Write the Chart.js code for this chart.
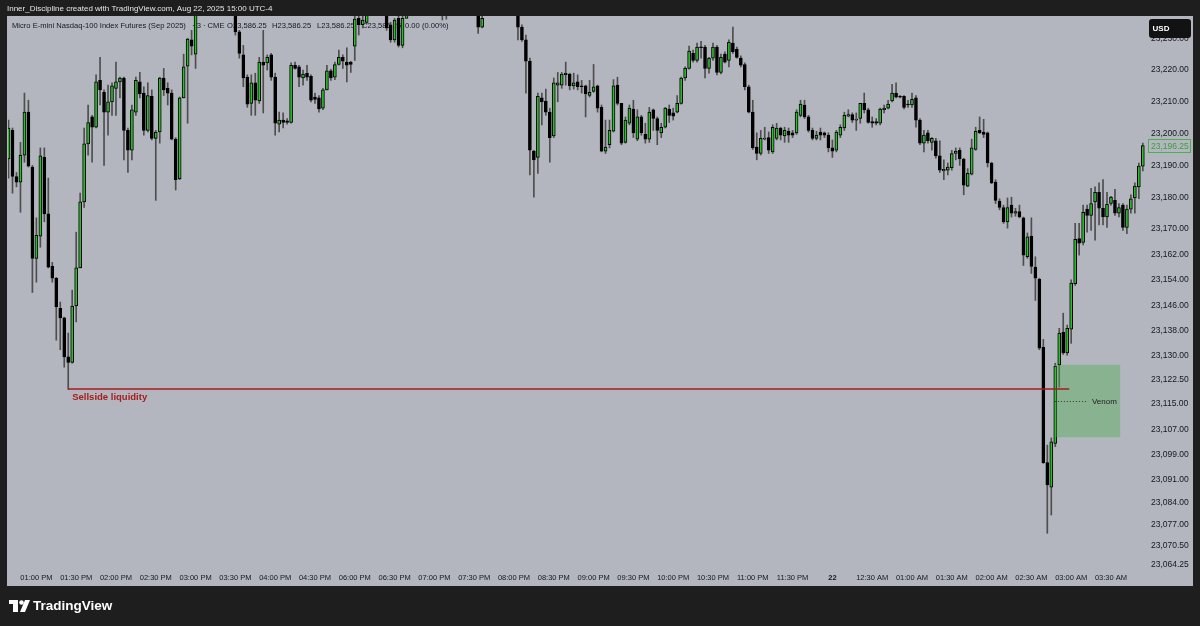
<!DOCTYPE html>
<html>
<head>
<meta charset="utf-8">
<script src="https://cdn.jsdelivr.net/npm/chart.js@4.4.1/dist/chart.umd.min.js"></script>
<style>
  html, body { margin: 0; padding: 0; background: #1e1e1e; }
  canvas { display: block; }
</style>
</head>
<body>
<canvas id="chart" width="1200" height="626"></canvas>
<script>
// 3-minute bars, MNQ Sep 2025, from 12:39 PM to 03:54 AM
const opens = [
  23192.0, 23201.0, 23186.5, 23184.75, 23193.25, 23206.75, 23189.5, 23160.75, 23167.75, 23192.5,
  23174.75, 23158.25, 23154.5, 23145.0, 23142.0, 23129.75, 23128.0, 23145.75, 23157.75, 23178.5,
  23196.75, 23205.25, 23202.0, 23216.75, 23213.0, 23206.75, 23210.0, 23214.25, 23216.25, 23217.5,
  23201.0, 23194.75, 23206.75, 23216.25, 23212.75, 23201.0, 23211.75, 23198.5, 23200.5, 23217.5,
  23214.25, 23212.75, 23198.25, 23185.75, 23211.25, 23221.25, 23229.5, 23225.0, 23240.0, 23244.0,
  23248.0, 23245.0, 23249.0, 23252.0, 23247.0, 23246.0, 23243.0, 23239.0, 23232.0, 23224.75,
  23217.75, 23209.5, 23216.0, 23210.25, 23222.5, 23222.25, 23224.75, 23217.75, 23203.0, 23204.25,
  23204.0, 23203.5, 23221.5, 23221.0, 23217.5, 23219.0, 23218.0, 23211.5, 23211.25, 23208.0,
  23213.75, 23219.75, 23217.75, 23221.75, 23224.0, 23222.5, 23222.5, 23227.5, 23236.25, 23234.25,
  23235.0, 23238.5, 23242.0, 23245.0, 23241.0, 23238.25, 23234.25, 23229.5, 23236.25, 23227.75,
  23236.25, 23241.0, 23245.0, 23243.0, 23247.0, 23250.0, 23246.0, 23244.0, 23242.0, 23244.0,
  23241.0, 23243.0, 23246.0, 23249.0, 23247.0, 23244.0, 23242.0, 23244.0, 23241.0, 23233.5,
  23238.5, 23242.0, 23245.0, 23248.0, 23246.0, 23243.0, 23245.0, 23243.0, 23239.0, 23233.5,
  23229.5, 23222.75, 23194.5, 23192.5, 23211.25, 23210.25, 23206.75, 23199.25, 23215.25, 23215.25,
  23218.5, 23218.75, 23215.0, 23216.25, 23215.0, 23215.0, 23212.0, 23213.25, 23215.0, 23208.25,
  23194.5, 23196.5, 23200.75, 23215.25, 23209.5, 23197.25, 23203.25, 23207.75, 23198.25, 23205.25,
  23199.75, 23198.25, 23207.5, 23204.75, 23200.25, 23202.0, 23207.75, 23206.5, 23206.75, 23209.5,
  23217.5, 23220.5, 23225.25, 23223.0, 23227.25, 23227.25, 23220.5, 23223.75, 23227.25, 23219.25,
  23225.0, 23223.0, 23228.5, 23226.5, 23223.75, 23221.75, 23214.75, 23206.75, 23195.75, 23193.75,
  23198.25, 23198.75, 23194.25, 23198.5, 23201.75, 23199.25, 23200.75, 23200.25, 23200.25, 23205.75,
  23209.0, 23205.25, 23201.0, 23198.5, 23200.5, 23200.25, 23199.5, 23195.5, 23194.75, 23199.5,
  23201.75, 23205.5, 23206.0, 23204.25, 23204.75, 23209.5, 23207.5, 23203.75, 23203.75, 23203.25,
  23207.5, 23208.0, 23210.25, 23212.75, 23211.75, 23211.75, 23209.25, 23209.0, 23211.25, 23204.25,
  23197.0, 23200.25, 23197.25, 23197.75, 23193.0, 23188.25, 23188.5, 23189.25, 23193.75, 23194.75,
  23192.0, 23183.5, 23187.25, 23195.0, 23201.0, 23200.5, 23200.25, 23190.75, 23184.75, 23178.75,
  23176.75, 23172.25, 23177.5, 23175.0, 23175.5, 23173.5, 23161.25, 23167.75, 23158.0, 23154.25,
  23132.75, 23096.5, 23088.75, 23102.5, 23127.25, 23137.5, 23131.0, 23138.5, 23152.75, 23167.0,
  23165.75, 23176.25, 23174.25, 23178.5, 23181.5, 23176.5, 23173.75, 23178.0, 23179.0, 23175.0,
  23177.5, 23170.5, 23176.25, 23179.75, 23183.25, 23189.75
];
const highs = [
  23204.25, 23201.75, 23187.75, 23197.25, 23212.75, 23210.5, 23190.0, 23173.5, 23195.5, 23195.5,
  23186.0, 23159.5, 23154.75, 23147.0, 23142.25, 23137.25, 23150.75, 23169.0, 23181.25, 23201.75,
  23209.0, 23205.75, 23218.5, 23224.0, 23213.75, 23215.25, 23216.0, 23222.5, 23217.75, 23217.75,
  23201.75, 23209.0, 23217.75, 23219.25, 23214.75, 23216.0, 23213.75, 23201.0, 23217.75, 23220.5,
  23216.0, 23213.75, 23198.75, 23211.5, 23225.0, 23230.0, 23232.5, 23243.0, 23246.0, 23250.0,
  23252.0, 23251.0, 23255.0, 23254.0, 23250.0, 23249.0, 23246.0, 23241.0, 23232.5, 23227.75,
  23218.5, 23218.5, 23219.0, 23224.0, 23232.5, 23224.75, 23225.25, 23219.0, 23206.75, 23206.5,
  23204.75, 23222.25, 23222.5, 23221.5, 23220.0, 23221.5, 23218.5, 23212.75, 23212.0, 23214.25,
  23221.5, 23220.25, 23222.5, 23226.25, 23224.75, 23227.0, 23222.75, 23237.25, 23238.0, 23237.0,
  23241.0, 23244.0, 23247.0, 23248.0, 23245.0, 23241.0, 23235.0, 23236.25, 23237.25, 23238.0,
  23243.0, 23247.0, 23250.0, 23249.0, 23253.0, 23254.0, 23250.0, 23248.0, 23246.0, 23247.0,
  23245.0, 23248.0, 23251.0, 23253.0, 23250.0, 23247.0, 23246.0, 23247.0, 23243.0, 23239.0,
  23244.0, 23247.0, 23250.0, 23252.0, 23249.0, 23247.0, 23248.0, 23246.0, 23242.0, 23234.25,
  23231.0, 23223.75, 23194.75, 23212.75, 23212.75, 23214.0, 23208.0, 23217.5, 23219.25, 23219.25,
  23222.5, 23219.0, 23219.0, 23218.5, 23216.75, 23215.25, 23216.75, 23221.75, 23215.25, 23209.0,
  23204.25, 23204.25, 23217.0, 23217.75, 23209.5, 23205.25, 23209.0, 23210.5, 23207.5, 23205.75,
  23203.25, 23208.25, 23207.75, 23205.25, 23203.25, 23208.25, 23209.0, 23208.0, 23212.0, 23217.75,
  23221.0, 23227.5, 23226.25, 23228.5, 23229.0, 23227.75, 23224.0, 23228.5, 23227.75, 23225.0,
  23225.75, 23229.5, 23233.5, 23227.25, 23224.5, 23222.25, 23215.25, 23210.5, 23200.25, 23201.0,
  23202.0, 23200.5, 23202.75, 23203.25, 23202.0, 23202.0, 23201.75, 23201.0, 23207.5, 23210.5,
  23210.5, 23205.75, 23201.75, 23200.75, 23201.75, 23200.5, 23200.25, 23198.0, 23201.0, 23202.75,
  23206.75, 23207.5, 23206.5, 23206.5, 23209.5, 23212.75, 23208.0, 23205.25, 23204.75, 23208.0,
  23209.0, 23210.5, 23215.5, 23216.0, 23212.0, 23212.0, 23210.5, 23212.75, 23212.0, 23204.75,
  23201.0, 23201.0, 23198.75, 23198.5, 23197.75, 23191.75, 23190.75, 23194.75, 23195.5, 23195.5,
  23192.25, 23189.0, 23198.25, 23202.0, 23205.25, 23204.5, 23200.5, 23191.0, 23185.5, 23179.5,
  23177.5, 23179.75, 23180.0, 23176.5, 23177.5, 23173.75, 23168.75, 23173.5, 23161.25, 23154.5,
  23135.25, 23102.0, 23104.25, 23127.75, 23138.75, 23143.5, 23139.75, 23154.0, 23171.75, 23171.75,
  23177.5, 23177.5, 23182.75, 23183.25, 23184.5, 23185.5, 23181.5, 23180.25, 23182.5, 23178.0,
  23178.0, 23177.5, 23180.75, 23184.5, 23190.75, 23197.0
];
const lows = [
  23186.0, 23181.25, 23183.25, 23175.25, 23191.0, 23189.5, 23150.0, 23153.25, 23164.25, 23172.25,
  23157.75, 23153.25, 23135.0, 23132.0, 23126.5, 23119.5, 23127.75, 23140.75, 23157.75, 23176.75,
  23193.25, 23191.0, 23201.75, 23209.0, 23190.0, 23199.5, 23205.75, 23205.75, 23211.25, 23191.75,
  23187.75, 23191.75, 23205.75, 23211.25, 23199.5, 23200.5, 23198.0, 23179.0, 23197.0, 23212.0,
  23209.0, 23198.0, 23182.25, 23185.5, 23211.25, 23203.25, 23224.75, 23220.5, 23238.0, 23241.0,
  23243.0, 23242.0, 23246.0, 23245.0, 23242.0, 23240.0, 23239.0, 23231.0, 23223.75, 23214.75,
  23208.25, 23205.75, 23205.75, 23209.5, 23206.5, 23220.0, 23216.75, 23199.5, 23200.5, 23201.75,
  23203.0, 23203.25, 23220.25, 23214.75, 23215.25, 23216.75, 23210.0, 23209.5, 23206.75, 23207.5,
  23213.75, 23216.75, 23217.0, 23221.5, 23220.5, 23216.25, 23219.25, 23223.0, 23231.0, 23233.25,
  23234.5, 23237.5, 23239.0, 23240.0, 23238.0, 23232.5, 23228.75, 23228.75, 23227.25, 23227.0,
  23237.5, 23239.0, 23241.0, 23240.0, 23244.0, 23245.0, 23242.0, 23240.0, 23239.0, 23235.75,
  23236.0, 23240.0, 23243.0, 23245.0, 23242.0, 23240.0, 23239.0, 23240.0, 23231.5, 23233.25,
  23237.5, 23239.0, 23242.0, 23244.0, 23242.0, 23240.0, 23241.0, 23239.5, 23229.5, 23229.0,
  23212.75, 23187.0, 23180.0, 23187.5, 23202.75, 23205.75, 23191.0, 23198.75, 23210.0, 23214.25,
  23215.25, 23213.75, 23214.0, 23213.75, 23212.75, 23205.25, 23211.5, 23213.0, 23206.75, 23194.25,
  23193.75, 23195.5, 23200.5, 23209.0, 23196.5, 23197.0, 23202.75, 23198.75, 23197.75, 23199.5,
  23197.0, 23197.25, 23201.0, 23196.5, 23198.75, 23201.75, 23203.5, 23204.25, 23206.5, 23209.25,
  23216.75, 23220.25, 23222.5, 23222.5, 23223.75, 23217.5, 23219.0, 23223.0, 23218.5, 23218.75,
  23222.25, 23221.0, 23225.25, 23223.75, 23221.0, 23213.75, 23206.5, 23195.0, 23191.75, 23193.25,
  23198.0, 23193.75, 23193.75, 23198.0, 23198.0, 23197.25, 23197.25, 23198.75, 23199.75, 23205.25,
  23204.75, 23200.5, 23198.0, 23198.0, 23198.0, 23198.75, 23194.25, 23192.5, 23194.25, 23198.75,
  23201.0, 23205.25, 23203.5, 23201.0, 23203.25, 23206.5, 23203.25, 23202.0, 23202.75, 23202.75,
  23206.5, 23207.75, 23210.0, 23211.25, 23211.25, 23207.75, 23208.25, 23208.25, 23202.0, 23196.5,
  23194.25, 23197.0, 23194.75, 23192.25, 23187.75, 23185.5, 23187.0, 23188.5, 23191.75, 23190.0,
  23180.75, 23183.25, 23187.0, 23194.75, 23200.0, 23198.75, 23189.5, 23184.25, 23178.0, 23176.0,
  23171.75, 23170.25, 23173.75, 23174.0, 23173.5, 23158.5, 23160.75, 23156.0, 23147.5, 23132.0,
  23096.25, 23074.25, 23080.0, 23101.5, 23120.25, 23130.5, 23130.25, 23134.0, 23152.25, 23161.75,
  23165.0, 23169.0, 23169.5, 23166.5, 23171.25, 23171.25, 23170.5, 23177.5, 23174.25, 23173.75,
  23169.5, 23168.5, 23175.0, 23175.0, 23179.5, 23188.25
];
const closes = [
  23201.75, 23186.5, 23184.75, 23193.25, 23206.75, 23189.75, 23160.75, 23168.0, 23193.0, 23174.75,
  23158.0, 23154.5, 23145.5, 23142.0, 23129.75, 23128.0, 23145.75, 23157.75, 23178.5, 23196.75,
  23203.5, 23202.0, 23216.25, 23213.75, 23206.75, 23210.0, 23215.0, 23216.25, 23217.5, 23201.0,
  23194.75, 23207.5, 23216.75, 23212.5, 23201.0, 23212.0, 23198.5, 23200.5, 23217.5, 23213.75,
  23212.75, 23198.25, 23185.5, 23211.25, 23221.0, 23229.75, 23227.5, 23240.0, 23244.0, 23248.0,
  23245.0, 23249.0, 23252.0, 23247.0, 23246.0, 23243.0, 23241.0, 23232.0, 23225.25, 23217.5,
  23209.25, 23216.0, 23210.5, 23222.5, 23221.5, 23224.0, 23217.75, 23203.25, 23204.25, 23203.5,
  23203.5, 23221.5, 23220.5, 23217.75, 23218.75, 23217.75, 23210.5, 23210.75, 23207.75, 23213.75,
  23219.75, 23217.5, 23221.75, 23224.0, 23222.75, 23221.5, 23221.75, 23236.0, 23234.25, 23235.75,
  23238.5, 23242.0, 23245.0, 23241.0, 23239.5, 23233.25, 23229.5, 23235.75, 23227.75, 23236.25,
  23241.0, 23245.0, 23243.0, 23247.0, 23250.0, 23246.0, 23244.0, 23242.0, 23244.0, 23241.0,
  23243.0, 23246.0, 23249.0, 23247.0, 23244.0, 23242.0, 23244.0, 23241.0, 23233.5, 23236.25,
  23242.0, 23245.0, 23248.0, 23246.0, 23243.0, 23245.0, 23243.0, 23241.0, 23233.5, 23229.5,
  23222.75, 23194.75, 23191.75, 23211.75, 23210.0, 23206.75, 23198.75, 23216.0, 23216.0, 23218.75,
  23219.0, 23215.0, 23216.0, 23214.75, 23214.75, 23212.5, 23213.0, 23214.75, 23208.0, 23194.5,
  23195.75, 23201.0, 23215.0, 23209.5, 23197.0, 23204.25, 23208.0, 23200.25, 23205.25, 23200.25,
  23198.25, 23206.75, 23204.75, 23201.0, 23202.0, 23208.0, 23205.75, 23205.5, 23209.5, 23217.5,
  23220.5, 23226.0, 23223.0, 23227.25, 23227.0, 23220.5, 23223.75, 23227.25, 23219.25, 23224.0,
  23222.5, 23228.75, 23225.75, 23224.0, 23221.5, 23214.75, 23206.75, 23195.5, 23193.75, 23198.5,
  23198.5, 23194.75, 23202.0, 23201.75, 23199.5, 23201.0, 23199.5, 23199.5, 23206.75, 23209.25,
  23205.25, 23201.0, 23198.5, 23199.5, 23199.5, 23199.5, 23195.5, 23194.5, 23200.5, 23202.0,
  23205.75, 23206.0, 23204.25, 23204.5, 23209.5, 23207.5, 23203.5, 23203.25, 23203.25, 23207.75,
  23208.0, 23209.25, 23212.75, 23211.5, 23211.5, 23208.25, 23209.0, 23210.75, 23204.25, 23197.0,
  23199.5, 23197.75, 23198.5, 23193.0, 23188.5, 23188.75, 23189.5, 23193.75, 23194.5, 23192.0,
  23183.75, 23187.5, 23195.5, 23200.75, 23200.25, 23199.75, 23190.75, 23184.5, 23179.0, 23176.75,
  23172.25, 23176.75, 23175.0, 23175.5, 23173.75, 23161.75, 23167.5, 23158.25, 23154.5, 23132.5,
  23096.5, 23089.5, 23103.0, 23126.75, 23137.25, 23131.0, 23138.75, 23153.0, 23166.75, 23165.5,
  23175.25, 23174.25, 23178.0, 23181.5, 23176.5, 23173.75, 23177.75, 23180.0, 23175.0, 23176.75,
  23170.5, 23176.25, 23179.5, 23183.5, 23189.75, 23196.25
];

// time axis: one label every 10 bars, first one (01:00 PM) on bar 7
const timeLabels = [
  '01:00 PM', '01:30 PM', '02:00 PM', '02:30 PM', '03:00 PM', '03:30 PM', '04:00 PM', '04:30 PM',
  '06:00 PM', '06:30 PM', '07:00 PM', '07:30 PM', '08:00 PM', '08:30 PM', '09:00 PM', '09:30 PM',
  '10:00 PM', '10:30 PM', '11:00 PM', '11:30 PM', '22', '12:30 AM', '01:00 AM', '01:30 AM',
  '02:00 AM', '02:30 AM', '03:00 AM', '03:30 AM'
];
const timeTickBars = [7, 17, 27, 37, 47, 57, 67, 77, 87, 97, 107, 117, 127, 137, 147, 157, 167, 177,
  187, 197, 207, 217, 227, 237, 247, 257, 267, 277];

const priceTicks = [23230, 23220, 23210, 23200, 23190, 23180, 23170, 23162, 23154, 23146, 23138,
  23130, 23122.5, 23115, 23107, 23099, 23091, 23084, 23077, 23070.5, 23064.25];

// drawings
const sellsideLevel = 23119.5, sellsideFrom = 15, sellsideTo = 266.5;
const zoneHigh = 23127.25, zoneLow = 23104.5, zoneFrom = 262.9, zoneTo = 279.3, venomTo = 271.2;

const GREEN = '#2dbd2d';
const BLACK = '#000000';
const WICK = '#4e4e4e';
const PANEL = '#b3b6be';
const DARK = '#1e1e1e';
const TEXT = '#131722';
const RED = '#a81c1c';

const bars = opens.map((o, i) => i);
const fmt = v => v.toLocaleString('en-US', { minimumFractionDigits: 2, maximumFractionDigits: 2 });

Chart.defaults.font.family = "'Liberation Sans', Arial, sans-serif";

const frame = {
  id: 'frame',
  beforeDraw(chart) {
    const c = chart.ctx;
    c.save();
    c.fillStyle = DARK;
    c.fillRect(0, 0, chart.width, chart.height);
    c.fillStyle = PANEL;
    c.fillRect(7, 16, 1186, 570);
    c.fillStyle = '#e6e6e6';
    c.font = "8px 'Liberation Sans', Arial, sans-serif";
    c.textBaseline = 'middle';
    c.fillText('Inner_Discipline created with TradingView.com, Aug 22, 2025 15:00 UTC-4', 7, 9);

    // TradingView logo
    c.fillStyle = '#ffffff';
    c.fillRect(9, 600, 9, 4);
    c.fillRect(13, 600, 5, 12);
    c.beginPath();
    c.arc(21.5, 602.5, 2.3, 0, Math.PI * 2);
    c.fill();
    c.beginPath();
    c.moveTo(25, 600); c.lineTo(30, 600); c.lineTo(25, 612); c.lineTo(20, 612);
    c.closePath(); c.fill();
    c.font = "bold 13.5px 'Liberation Sans', Arial, sans-serif";
    c.fillText('TradingView', 33, 606);
    c.restore();
  },
  beforeDatasetsDraw(chart) {
    const c = chart.ctx;
    c.save();
    c.fillStyle = TEXT;
    c.font = "7.6px 'Liberation Sans', Arial, sans-serif";
    c.textBaseline = 'middle';
    c.fillText('Micro E-mini Nasdaq-100 Index Futures (Sep 2025)', 12, 26);
    c.fillText('\u00b7 3 \u00b7 CME', 192, 26);
    c.fillText('O23,586.25', 227, 26);
    c.fillText('H23,586.25', 272, 26);
    c.fillText('L23,586.25', 317, 26);
    c.fillText('C23,586.25', 362, 26);
    c.fillText('0.00 (0.00%)', 405, 26);
    c.restore();
  },
  afterDatasetsDraw(chart) {
    const c = chart.ctx, x = chart.scales.x, y = chart.scales.y;
    c.save();
    // order block
    const zx1 = x.getPixelForValue(zoneFrom), zx2 = x.getPixelForValue(zoneTo);
    const zy1 = y.getPixelForValue(zoneHigh), zy2 = y.getPixelForValue(zoneLow);
    c.fillStyle = 'rgba(76, 175, 80, 0.42)';
    c.fillRect(zx1, zy1, zx2 - zx1, zy2 - zy1);
    const my = Math.round(y.getPixelForValue((zoneHigh + zoneLow) / 2)) + 0.5;
    c.strokeStyle = '#333';
    c.lineWidth = 1;
    c.setLineDash([1, 2]);
    c.beginPath();
    c.moveTo(zx1, my); c.lineTo(x.getPixelForValue(venomTo), my);
    c.stroke();
    c.setLineDash([]);
    c.fillStyle = '#222';
    c.font = "8px 'Liberation Sans', Arial, sans-serif";
    c.textBaseline = 'middle';
    c.fillText('Venom', x.getPixelForValue(venomTo) + 4, my);

    // sellside liquidity line
    const sy = Math.round(y.getPixelForValue(sellsideLevel));
    c.fillStyle = RED;
    c.fillRect(x.getPixelForValue(sellsideFrom), sy - 0.75, x.getPixelForValue(sellsideTo) - x.getPixelForValue(sellsideFrom), 1.5);
    c.font = "bold 9.5px 'Liberation Sans', Arial, sans-serif";
    c.textBaseline = 'top';
    c.fillText('Sellside liquidity', x.getPixelForValue(sellsideFrom) + 4, sy + 4);
    c.restore();
  },
  afterDraw(chart) {
    const c = chart.ctx, y = chart.scales.y;
    c.save();
    // USD button
    c.fillStyle = '#121212';
    c.beginPath();
    c.roundRect(1149, 19, 42, 19, 3);
    c.fill();
    c.fillStyle = '#ffffff';
    c.font = "bold 8px 'Liberation Sans', Arial, sans-serif";
    c.textAlign = 'center';
    c.textBaseline = 'middle';
    c.fillText('USD', 1161, 29);
    // last price label
    const last = closes[closes.length - 1];
    const py = Math.round(y.getPixelForValue(last));
    c.fillStyle = PANEL;
    c.fillRect(1148.5, py - 6.5, 42, 13);
    c.strokeStyle = '#4caf50';
    c.lineWidth = 1;
    c.strokeRect(1148.5, py - 6.5, 42, 13);
    c.fillStyle = '#3c9f40';
    c.font = "8.5px 'Liberation Sans', Arial, sans-serif";
    c.textAlign = 'left';
    c.fillText(fmt(last), 1151, py + 0.5);
    c.restore();
  }
};

new Chart(document.getElementById('chart'), {
  type: 'bar',
  data: {
    datasets: [
      {
        data: bars.map(i => ({ x: i, y: [opens[i], closes[i]] })),
        backgroundColor: bars.map(i => closes[i] >= opens[i] ? GREEN : BLACK),
        borderColor: BLACK,
        borderWidth: 1,
        borderSkipped: false,
        barThickness: 3,
        minBarLength: 1,
        grouped: false
      },
      {
        data: bars.map(i => ({ x: i, y: [lows[i], highs[i]] })),
        backgroundColor: WICK,
        borderWidth: 0,
        barThickness: 1,
        grouped: false
      }
    ]
  },
  options: {
    responsive: false,
    animation: false,
    layout: { padding: { left: 8, right: 7, top: 16, bottom: 43 } },
    plugins: { legend: { display: false }, tooltip: { enabled: false } },
    scales: {
      x: {
        type: 'linear',
        min: -0.13,
        max: 286.3,
        offset: false,
        grid: { display: false, drawTicks: false },
        border: { display: false },
        afterBuildTicks: s => { s.ticks = timeTickBars.map(v => ({ value: v })); },
        afterFit: s => { s.height = 13; },
        ticks: {
          autoSkip: false,
          maxRotation: 0,
          padding: 3,
          color: TEXT,
          font: c => ({ size: 7.5, weight: c.index === 20 ? 'bold' : 'normal' }),
          callback: (v, i) => timeLabels[i]
        }
      },
      y: {
        position: 'right',
        min: 23062.7,
        max: 23237.0,
        grid: { display: false, drawTicks: false },
        border: { display: false },
        afterBuildTicks: s => { s.ticks = priceTicks.map(v => ({ value: v })); },
        afterFit: s => { s.width = 45; },
        ticks: {
          autoSkip: false,
          padding: 3,
          color: TEXT,
          font: { size: 8.5 },
          callback: v => fmt(v)
        }
      }
    }
  },
  plugins: [frame]
});
</script>
</body>
</html>
